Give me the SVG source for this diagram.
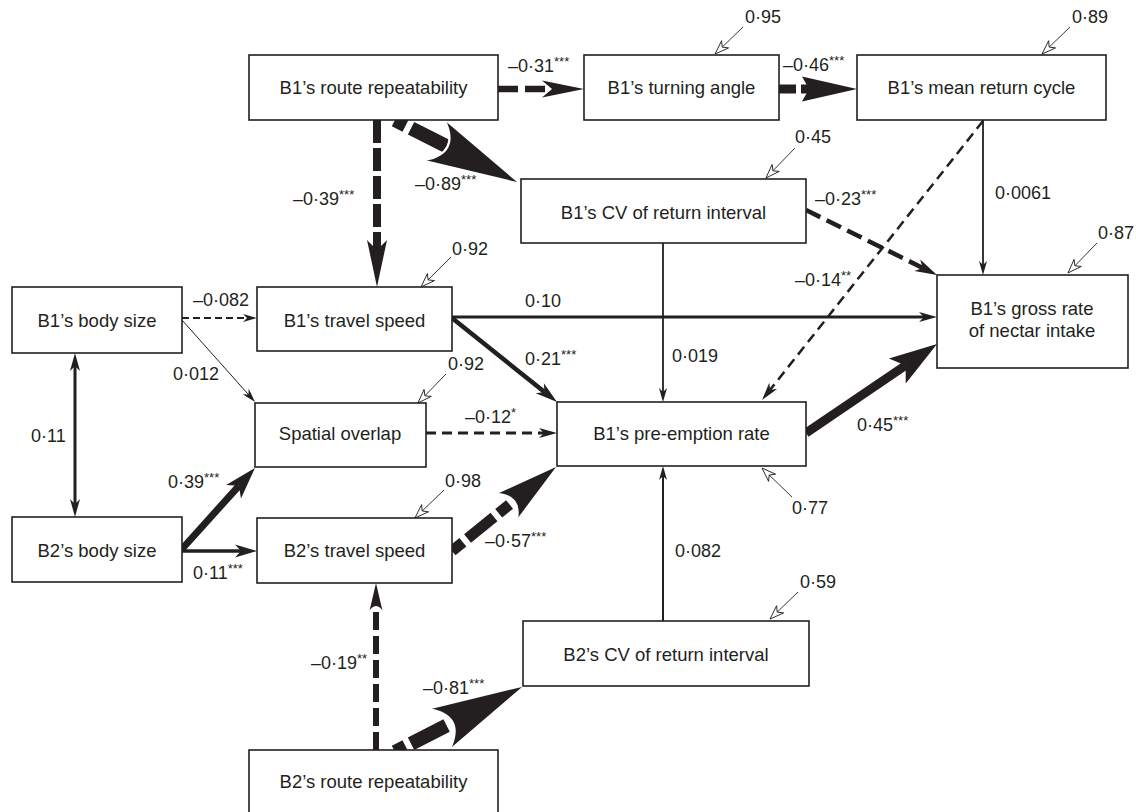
<svg xmlns="http://www.w3.org/2000/svg" width="1136" height="812" viewBox="0 0 1136 812">
<defs>
<style>
.box{fill:#fff;stroke:#231f20;stroke-width:1.6}
.t{font-family:"Liberation Sans",Arial,Helvetica,sans-serif;font-size:18.5px;fill:#231f20;text-anchor:middle}
.l{font-family:"Liberation Sans",Arial,Helvetica,sans-serif;font-size:18px;fill:#231f20}
.sup{font-size:13px}
.c{fill:none;stroke:#231f20;stroke-linecap:butt}
.res{fill:none;stroke:#231f20;stroke-width:0.9}
.hd{fill:#231f20}
.wa{fill:none;stroke:#fff;stroke-width:2.2}
</style>
<marker id="a1" markerUnits="userSpaceOnUse" orient="auto" refX="4" refY="0" markerWidth="100" markerHeight="100" overflow="visible"><path class="hd" d="M0,-4L14,0L0,4L4,0Z"/></marker>
<marker id="a2" markerUnits="userSpaceOnUse" orient="auto-start-reverse" refX="5" refY="0" markerWidth="100" markerHeight="100" overflow="visible"><path class="hd" d="M0,-5L18,0L0,5L5,0Z"/></marker>
<marker id="a3" markerUnits="userSpaceOnUse" orient="auto" refX="6" refY="0" markerWidth="100" markerHeight="100" overflow="visible"><path class="hd" d="M0,-6.5L22,0L0,6.5L6,0Z"/></marker>
<marker id="a4" markerUnits="userSpaceOnUse" orient="auto" refX="8" refY="0" markerWidth="100" markerHeight="100" overflow="visible"><path class="hd" d="M0,-10L32,0L0,10L8,0Z"/></marker>
<marker id="a5" markerUnits="userSpaceOnUse" orient="auto" refX="10" refY="0" markerWidth="100" markerHeight="100" overflow="visible"><path class="hd" d="M0,-8.5L42,0L0,8.5L10,0Z"/></marker>
<marker id="a6" markerUnits="userSpaceOnUse" orient="auto" refX="7" refY="0" markerWidth="100" markerHeight="100" overflow="visible"><path class="hd" d="M0,-12.5L55,0L0,12.5L7,0Z"/></marker>
<marker id="a7" markerUnits="userSpaceOnUse" orient="auto" refX="10" refY="0" markerWidth="100" markerHeight="100" overflow="visible"><path class="hd" d="M0,-10L47,0L0,10L10,0Z"/></marker>
<marker id="a8" markerUnits="userSpaceOnUse" orient="auto" refX="10" refY="0" markerWidth="100" markerHeight="100" overflow="visible"><path class="hd" d="M0,-15L48,0L0,15L10,0Z"/></marker>
<marker id="r1" markerUnits="userSpaceOnUse" orient="auto" refX="14" refY="0" markerWidth="200" markerHeight="200" overflow="visible"><path class="hd" d="M92,0L0,-22Q28,0 0,22Z"/><path class="wa" d="M0,-22Q28,0 0,22"/></marker>
<marker id="r2" markerUnits="userSpaceOnUse" orient="auto" refX="9" refY="0" markerWidth="200" markerHeight="200" overflow="visible"><path class="hd" d="M63,0L0,-16Q18,0 0,16Z"/><path class="wa" d="M0,-16Q18,0 0,16"/></marker>
<marker id="r3" markerUnits="userSpaceOnUse" orient="auto" refX="6" refY="0" markerWidth="100" markerHeight="100" overflow="visible"><path class="hd" d="M30,0L0,-7Q12,0 0,7Z"/><path class="wa" d="M0,-7Q12,0 0,7" stroke-width="1.5"/></marker>
<marker id="o" markerUnits="userSpaceOnUse" orient="auto" refX="4" refY="0" markerWidth="100" markerHeight="100" overflow="visible"><path d="M0,-5L14,0L0,5L4,0Z" fill="#fff" stroke="#231f20" stroke-width="0.9"/></marker>
</defs>
<rect width="1136" height="812" fill="#fff"/>

<g id="connectors">
<path class="c" d="M498,89H552" stroke-width="6.5" stroke-dasharray="20 7" marker-end="url(#a5)"/>
<path class="c" d="M779,89H809" stroke-width="9" stroke-dasharray="17 5" marker-end="url(#a6)"/>
<path class="c" d="M395,120L447.5,146.7" stroke-width="14" stroke-dasharray="12 6 40 6" marker-end="url(#r1)"/>
<path class="c" d="M377,120V250" stroke-width="8" stroke-dasharray="23 5" marker-end="url(#a7)"/>
<path class="c" d="M182,318H247" stroke-width="2" stroke-dasharray="7 4" marker-end="url(#a1)"/>
<path class="c" d="M182,320L248.4,394.5" stroke-width="1" marker-end="url(#a1)"/>
<path class="c" d="M452,317H924" stroke-width="3" marker-end="url(#a2)"/>
<path class="c" d="M452,318L544.5,392" stroke-width="4.5" marker-end="url(#a3)"/>
<path class="c" d="M663,243V392" stroke-width="1.8" marker-end="url(#a1)"/>
<path class="c" d="M806,210L922.7,267.9" stroke-width="4.5" stroke-dasharray="16 7" marker-end="url(#a3)"/>
<path class="c" d="M983,120V265" stroke-width="1.8" marker-end="url(#a1)"/>
<path class="c" d="M983,121L770.1,389.8" stroke-width="2.5" stroke-dasharray="10 6" marker-end="url(#a2)"/>
<path class="c" d="M426,433H544" stroke-width="3" stroke-dasharray="10 6" marker-end="url(#a2)"/>
<path class="c" d="M75,366V504" stroke-width="3" marker-start="url(#a2)" marker-end="url(#a2)"/>
<path class="c" d="M182,549L238.9,485.8" stroke-width="7" marker-end="url(#a4)"/>
<path class="c" d="M182,551H241" stroke-width="3.5" marker-end="url(#a3)"/>
<path class="c" d="M452,551L514,500.9" stroke-width="11" stroke-dasharray="14 6 34 6" marker-end="url(#r2)"/>
<path class="c" d="M376,750V607" stroke-width="6" stroke-dasharray="18 6" marker-end="url(#r3)"/>
<path class="c" d="M395,752L452.6,722.5" stroke-width="14" stroke-dasharray="12 6 40 6" marker-end="url(#r1)"/>
<path class="c" d="M663,621V476" stroke-width="2" marker-end="url(#a1)"/>
<path class="c" d="M806,433L905.6,365.4" stroke-width="9" marker-end="url(#a8)"/>
<!-- residual arrows -->
<path class="res" d="M743,27L722.2,47.1" marker-end="url(#o)"/>
<path class="res" d="M1070,27L1049.2,47.1" marker-end="url(#o)"/>
<path class="res" d="M795,148L772.9,170.8" marker-end="url(#o)"/>
<path class="res" d="M1097,243L1074.9,265.8" marker-end="url(#o)"/>
<path class="res" d="M451,257L428.1,279.9" marker-end="url(#o)"/>
<path class="res" d="M446,374L424.9,395.8" marker-end="url(#o)"/>
<path class="res" d="M444,490L422.2,511" marker-end="url(#o)"/>
<path class="res" d="M792,497L769.2,475" marker-end="url(#o)"/>
<path class="res" d="M798,592L777.2,612.1" marker-end="url(#o)"/>
</g>

<g id="labels">
<text class="l" x="745" y="23">0·95</text>
<text class="l" x="1072" y="23">0·89</text>
<text class="l" x="795" y="143">0·45</text>
<text class="l" x="1098" y="239">0·87</text>
<text class="l" x="452" y="255">0·92</text>
<text class="l" x="448" y="370">0·92</text>
<text class="l" x="445" y="487">0·98</text>
<text class="l" x="792" y="514">0·77</text>
<text class="l" x="800" y="588">0·59</text>
<text class="l" x="508" y="72">–0·31<tspan class="sup" dy="-6">***</tspan></text>
<text class="l" x="783" y="71">–0·46<tspan class="sup" dy="-6">***</tspan></text>
<text class="l" x="415" y="190">–0·89<tspan class="sup" dy="-6">***</tspan></text>
<text class="l" x="293" y="205">–0·39<tspan class="sup" dy="-6">***</tspan></text>
<text class="l" x="815" y="205">–0·23<tspan class="sup" dy="-6">***</tspan></text>
<text class="l" x="995" y="199">0·0061</text>
<text class="l" x="795" y="286">–0·14<tspan class="sup" dy="-6">**</tspan></text>
<text class="l" x="193" y="306">–0·082</text>
<text class="l" x="525" y="307">0·10</text>
<text class="l" x="525" y="365">0·21<tspan class="sup" dy="-6">***</tspan></text>
<text class="l" x="672" y="362">0·019</text>
<text class="l" x="173" y="380">0·012</text>
<text class="l" x="465" y="423">–0·12<tspan class="sup" dy="-6">*</tspan></text>
<text class="l" x="31" y="442">0·11</text>
<text class="l" x="168" y="488">0·39<tspan class="sup" dy="-6">***</tspan></text>
<text class="l" x="857" y="431">0·45<tspan class="sup" dy="-6">***</tspan></text>
<text class="l" x="193" y="579">0·11<tspan class="sup" dy="-6">***</tspan></text>
<text class="l" x="485" y="547">–0·57<tspan class="sup" dy="-6">***</tspan></text>
<text class="l" x="675" y="557">0·082</text>
<text class="l" x="311" y="669">–0·19<tspan class="sup" dy="-6">**</tspan></text>
<text class="l" x="423" y="694">–0·81<tspan class="sup" dy="-6">***</tspan></text>
</g>

<g id="n-b1-route"><rect class="box" x="249" y="55" width="249" height="65"/><text class="t" x="373.5" y="94">B1’s route repeatability</text></g>
<g id="n-b1-turning"><rect class="box" x="584" y="55" width="195" height="65"/><text class="t" x="681.5" y="94">B1’s turning angle</text></g>
<g id="n-b1-mean"><rect class="box" x="857" y="55" width="249" height="65"/><text class="t" x="981.5" y="94">B1’s mean return cycle</text></g>
<g id="n-b1-cv"><rect class="box" x="521" y="179" width="285" height="64"/><text class="t" x="663.5" y="219">B1’s CV of return interval</text></g>
<g id="n-b1-gross"><rect class="box" x="937" y="275" width="191" height="93"/><text class="t" x="1032" y="315">B1’s gross rate</text><text class="t" x="1032" y="337">of nectar intake</text></g>
<g id="n-b1-body"><rect class="box" x="12" y="287" width="170" height="66"/><text class="t" x="97" y="327">B1’s body size</text></g>
<g id="n-b1-speed"><rect class="box" x="257" y="287" width="195" height="64"/><text class="t" x="354.5" y="327">B1’s travel speed</text></g>
<g id="n-overlap"><rect class="box" x="255" y="403" width="171" height="64"/><text class="t" x="340" y="440">Spatial overlap</text></g>
<g id="n-b1-preempt"><rect class="box" x="557" y="402" width="249" height="64"/><text class="t" x="681.5" y="440">B1’s pre-emption rate</text></g>
<g id="n-b2-body"><rect class="box" x="12" y="517" width="170" height="65"/><text class="t" x="97" y="557">B2’s body size</text></g>
<g id="n-b2-speed"><rect class="box" x="257" y="518" width="195" height="65"/><text class="t" x="354.5" y="557">B2’s travel speed</text></g>
<g id="n-b2-cv"><rect class="box" x="523" y="621" width="286" height="65"/><text class="t" x="666" y="661">B2’s CV of return interval</text></g>
<g id="n-b2-route"><rect class="box" x="249" y="750" width="249" height="66"/><text class="t" x="373.5" y="788">B2’s route repeatability</text></g>
</svg>
